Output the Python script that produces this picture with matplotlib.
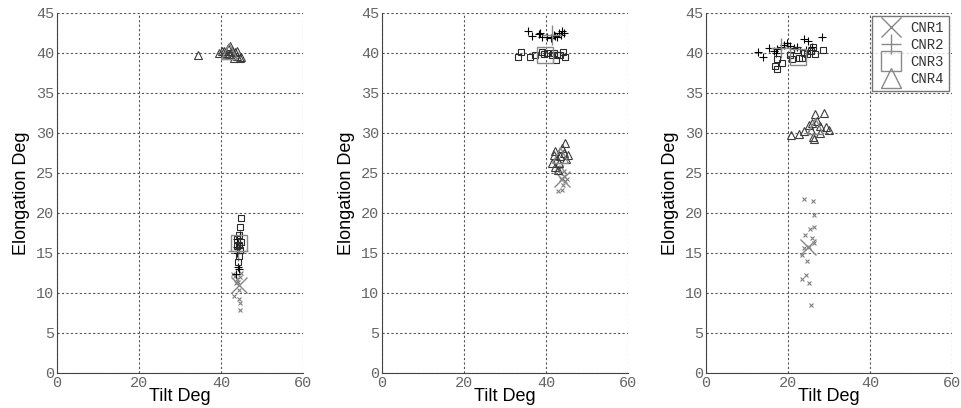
import matplotlib
matplotlib.use('Agg')
import matplotlib.pyplot as plt
from matplotlib.lines import Line2D

# panel 1
p1_cnr1_x = [43.0, 43.4, 43.8, 44.2, 44.6, 43.6, 43.1, 44.4, 44.7, 44.7, 44.3, 44.9]
p1_cnr1_y = [12.4, 12.1, 11.8, 11.4, 12.0, 11.2, 9.6, 9.2, 8.8, 7.9, 10.4, 12.5]
p1_cnr2_x = [43.8, 44.2, 44.5, 44.0, 44.6, 44.1, 44.5, 43.7, 44.0, 44.7]
p1_cnr2_y = [15.8, 16.3, 15.6, 16.8, 17.3, 13.2, 13.0, 12.4, 15.0, 16.0]
p1_cnr3_x = [44.8, 44.7, 44.5, 44.0, 44.3, 44.6, 44.4, 44.2, 44.8, 43.9]
p1_cnr3_y = [19.4, 18.2, 17.2, 16.7, 16.0, 15.4, 14.6, 13.9, 16.4, 15.9]
p1_cnr4_x = [34.4, 39.5, 40.3, 41.0, 41.8, 42.2, 42.6, 43.0, 43.5, 44.0, 44.6, 43.2, 42.0, 40.8, 43.8, 41.5, 44.9]
p1_cnr4_y = [39.8, 40.0, 40.2, 40.0, 40.6, 40.9, 40.3, 39.8, 40.1, 39.6, 39.4, 39.4, 39.9, 40.3, 40.3, 39.7, 39.5]
p1_mean_x = [44.5, 44.2, 44.5, 42.0]
p1_mean_y = [11.0, 15.2, 16.2, 40.2]

# panel 2
p2_cnr1_x = [43.3, 44.3, 43.7, 44.7, 44.1, 45.1, 43.0, 43.9, 42.7, 44.5, 43.7]
p2_cnr1_y = [25.0, 24.6, 24.2, 23.95, 23.5, 24.2, 22.7, 22.9, 25.6, 25.2, 25.8]
p2_cnr2_x = [35.5, 36.7, 38.2, 39.0, 40.2, 41.1, 42.3, 43.1, 43.7, 44.3, 42.8, 41.9, 38.6, 43.9]
p2_cnr2_y = [42.7, 42.1, 42.4, 42.0, 42.0, 41.9, 42.1, 42.5, 42.3, 42.5, 42.0, 42.3, 42.5, 42.7]
p2_cnr3_x = [33.1, 33.9, 36.2, 37.4, 39.0, 40.2, 41.5, 42.7, 42.5, 43.5, 44.1, 44.7, 41.9, 39.6]
p2_cnr3_y = [39.5, 40.1, 39.5, 39.75, 40.1, 40.0, 39.8, 39.7, 39.1, 39.8, 40.1, 39.5, 40.0, 39.9]
p2_cnr4_x = [44.7, 43.9, 42.3, 41.9, 42.7, 43.5, 44.9, 41.5, 42.3, 43.1, 44.3, 45.3, 42.9]
p2_cnr4_y = [28.7, 28.1, 27.7, 27.2, 26.75, 27.1, 26.7, 26.25, 25.8, 26.25, 27.5, 27.3, 25.4]
p2_mean_x = [44.0, 41.5, 39.8, 43.5]
p2_mean_y = [24.3, 42.2, 39.8, 27.2]

# panel 3
p3_cnr1_x = [24.0, 26.1, 26.3, 26.3, 25.3, 24.1, 25.9, 26.3, 23.5, 24.7, 24.3, 23.5, 25.1, 25.5, 25.1, 23.9]
p3_cnr1_y = [21.75, 21.5, 19.8, 18.2, 18.0, 17.3, 16.9, 16.25, 14.8, 13.95, 12.3, 11.75, 11.3, 8.5, 15.8, 15.6]
p3_cnr2_x = [12.6, 13.8, 15.3, 16.5, 17.3, 18.2, 19.0, 19.8, 20.6, 21.4, 23.9, 24.8, 25.9, 28.4, 22.2, 24.3, 17.0]
p3_cnr2_y = [40.1, 39.5, 40.6, 40.2, 40.5, 40.8, 41.0, 41.25, 40.9, 40.6, 41.7, 41.5, 40.8, 42.0, 40.8, 40.4, 40.0]
p3_cnr3_x = [17.3, 16.9, 17.2, 18.6, 20.6, 21.0, 22.2, 22.6, 23.8, 25.5, 26.1, 26.5, 28.5, 24.7, 23.4]
p3_cnr3_y = [39.2, 38.4, 38.0, 38.7, 39.8, 39.25, 40.4, 39.4, 40.0, 40.3, 40.8, 39.9, 40.4, 39.9, 39.4]
p3_cnr4_x = [26.5, 28.9, 20.8, 22.6, 24.0, 25.1, 25.9, 27.1, 27.9, 29.2, 30.0, 26.0, 26.3, 27.9, 25.5]
p3_cnr4_y = [32.4, 32.5, 29.8, 29.9, 30.3, 31.0, 31.3, 31.5, 30.9, 30.7, 30.4, 29.5, 29.25, 30.0, 30.4]
p3_mean_x = [24.8, 18.2, 22.5, 26.5]
p3_mean_y = [15.8, 40.6, 39.5, 30.9]

labels = ['CNR1', 'CNR2', 'CNR3', 'CNR4']
markers = ['x', '+', 's', '^']
colors = ['#808080', '#000000', '#2a2a2a', '#3c3c3c']
sizes = [3.5, 6, 5, 5.5]
big_sizes = [12, 14, 12, 12]

panels = [
    ([p1_cnr1_x, p1_cnr2_x, p1_cnr3_x, p1_cnr4_x], [p1_cnr1_y, p1_cnr2_y, p1_cnr3_y, p1_cnr4_y], p1_mean_x, p1_mean_y),
    ([p2_cnr1_x, p2_cnr2_x, p2_cnr3_x, p2_cnr4_x], [p2_cnr1_y, p2_cnr2_y, p2_cnr3_y, p2_cnr4_y], p2_mean_x, p2_mean_y),
    ([p3_cnr1_x, p3_cnr2_x, p3_cnr3_x, p3_cnr4_x], [p3_cnr1_y, p3_cnr2_y, p3_cnr3_y, p3_cnr4_y], p3_mean_x, p3_mean_y),
]

lefts = [57 / 962, 382 / 962, 706 / 962]
fig = plt.figure(figsize=(9.62, 4.08), dpi=100)

label_font = dict(family='Liberation Sans', size=13)

for i, (xs, ys, mx, my) in enumerate(panels):
    ax = fig.add_axes([lefts[i], 35 / 408, 246 / 962, 360 / 408])
    for k in range(4):
        ax.plot(xs[k], ys[k], linestyle='none', marker=markers[k], ms=sizes[k],
                mfc='none', mec=colors[k], mew=0.8)
        ax.plot(mx[k], my[k], linestyle='none', marker=markers[k], ms=big_sizes[k],
                mfc='none', mec='#8a8a8a', mew=1.0)
    ax.set_xlim(0, 60)
    ax.set_ylim(0, 45)
    ax.set_xticks([0, 20, 40, 60])
    ax.set_yticks(range(0, 46, 5))
    ax.grid(True, linestyle=(0, (2, 2)), color='#555555', linewidth=0.8)
    ax.tick_params(length=0, pad=2, labelsize=11, labelcolor='#666666')
    for t in ax.get_xticklabels() + ax.get_yticklabels():
        t.set_family('Liberation Mono')
    for s in ['top', 'right']:
        ax.spines[s].set_visible(False)
    for s in ['left', 'bottom']:
        ax.spines[s].set_color('#444444')
    ax.set_xlabel('Tilt Deg', labelpad=-1, **label_font)
    ax.set_ylabel('Elongation Deg', labelpad=4, **label_font)

    if i == 2:
        handles = [Line2D([], [], linestyle='none', marker=markers[k], ms=14,
                          mfc='none', mec='#8a8a8a', mew=1.0) for k in range(4)]
        leg = ax.legend(handles, labels, loc='upper right', fancybox=False,
                        prop={'family': 'Liberation Mono', 'size': 10},
                        borderpad=0.35, labelspacing=0.2, handletextpad=0.4,
                        handlelength=2.0, borderaxespad=0.25)
        leg.get_frame().set_edgecolor('#555555')
        leg.get_frame().set_linewidth(1.0)
        for t in leg.get_texts():
            t.set_color('#333333')

plt.savefig('out.png')
